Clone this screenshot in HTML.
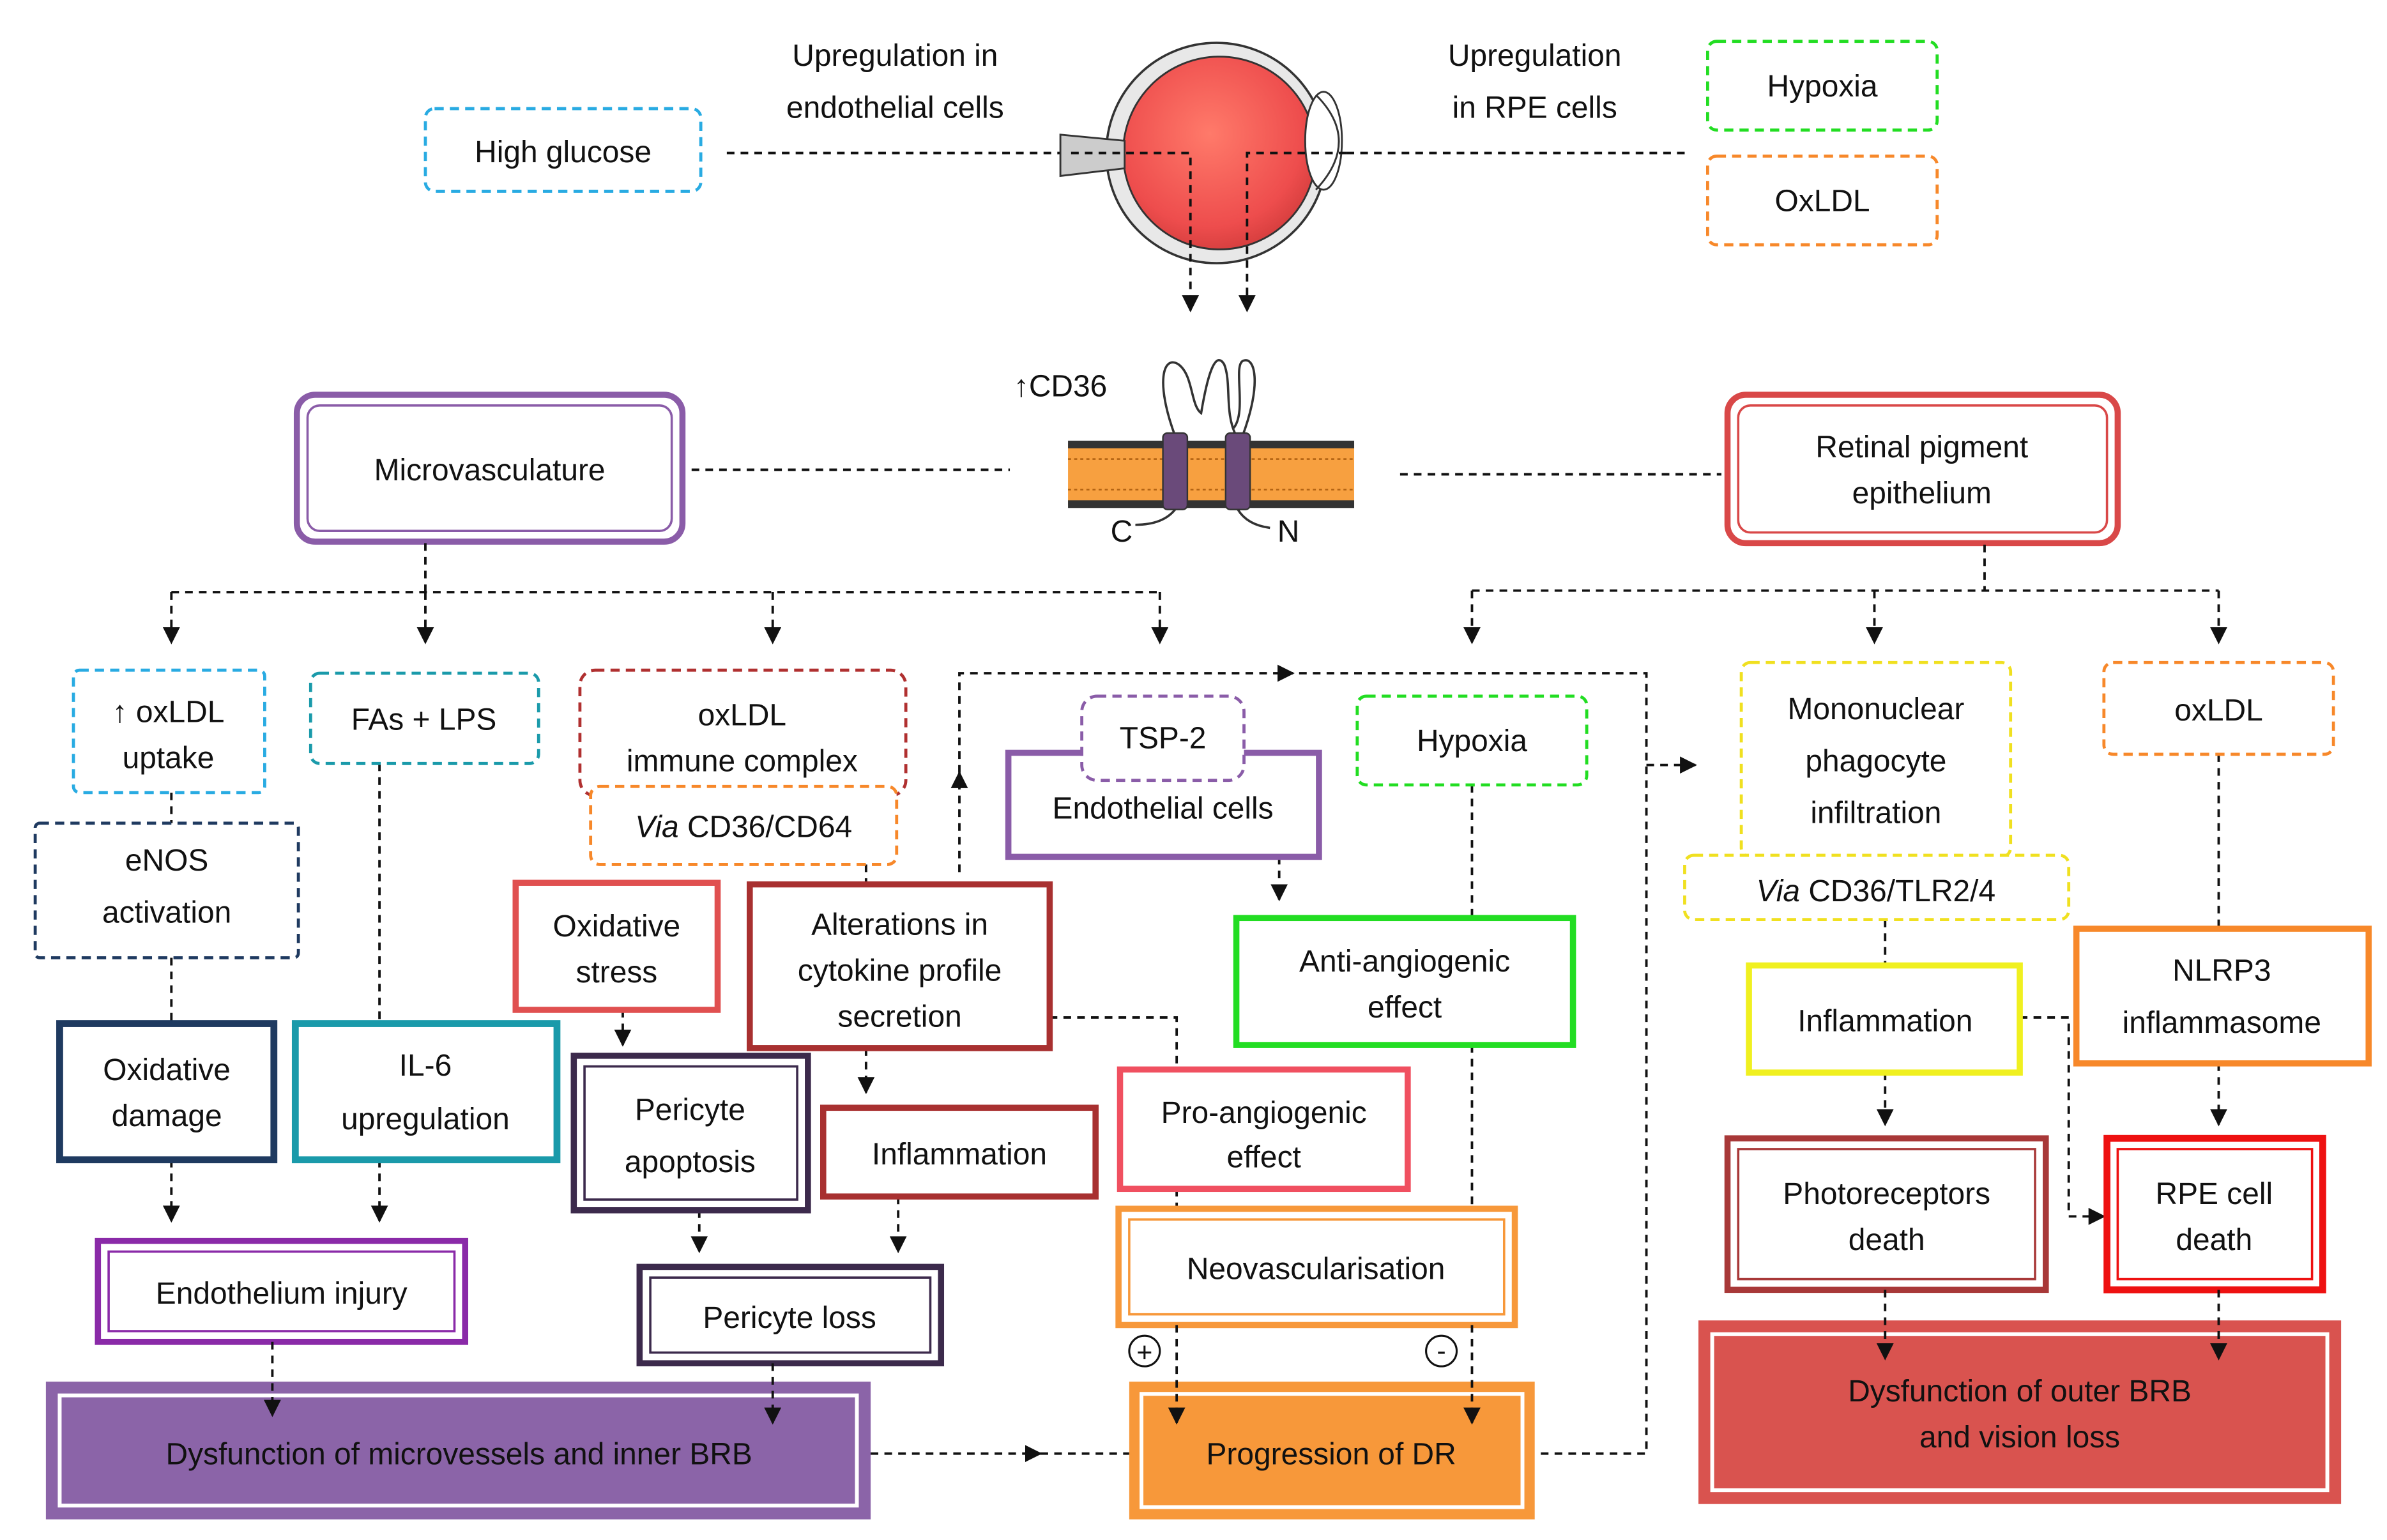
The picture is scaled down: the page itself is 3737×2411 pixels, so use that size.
<!DOCTYPE html>
<html><head><meta charset="utf-8"><style>
html,body{margin:0;padding:0;background:#fff}
svg{display:block}
text{font-family:"Liberation Sans",sans-serif;font-size:20px;fill:#111;text-anchor:middle}
.d{fill:none;stroke:#111;stroke-width:1.6;stroke-dasharray:5,4}
.db{fill:#fff;stroke-width:2;stroke-dasharray:6,4}
</style></head><body>
<svg width="3737" height="2411" viewBox="0 0 1560 1006.5" preserveAspectRatio="none" xmlns="http://www.w3.org/2000/svg">
<defs>
<marker id="a" viewBox="0 0 10 10" refX="9" refY="5" markerWidth="7" markerHeight="7" orient="auto"><path d="M0,0L10,5L0,10z" fill="#111"/></marker>
<radialGradient id="eye" cx="0.45" cy="0.4" r="0.6"><stop offset="0" stop-color="#ff7a6a"/><stop offset="0.8" stop-color="#ee4d4d"/><stop offset="1" stop-color="#d94040"/></radialGradient>
</defs>
<rect width="1560" height="1006.5" fill="#fff"/>

<!-- top -->
<rect x="278" y="71" width="180" height="54" rx="6" class="db" stroke="#29abe2"/>
<text x="368" y="106">High glucose</text>
<text x="585" y="43">Upregulation in</text>
<text x="585" y="77">endothelial cells</text>
<text x="1003" y="43">Upregulation</text>
<text x="1003" y="77">in RPE cells</text>
<rect x="1116" y="27" width="150" height="58" rx="6" class="db" stroke="#22dd22"/>
<text x="1191" y="63">Hypoxia</text>
<rect x="1116" y="102" width="150" height="58" rx="6" class="db" stroke="#f7882a"/>
<text x="1191" y="138">OxLDL</text>
<path class="d" d="M475,100H700"/>
<path class="d" d="M880,100H1105"/>
<!-- eye -->
<circle cx="795" cy="100" r="72" fill="#e8e8e8" stroke="#333" stroke-width="1.5"/>
<circle cx="797" cy="100" r="63" fill="url(#eye)" stroke="#333" stroke-width="1.2"/>
<polygon points="693,88 735,92 735,110 693,115" fill="#ccc" stroke="#333" stroke-width="1.2"/>
<ellipse cx="865" cy="92" rx="12" ry="32" fill="#fff" stroke="#333" stroke-width="1.2"/>
<path d="M860,62 Q890,92 860,124" fill="none" stroke="#333" stroke-width="1.2"/>
<path class="d" d="M700,100H778V203" marker-end="url(#a)"/>
<path class="d" d="M880,100H815V203" marker-end="url(#a)"/>
<!-- membrane -->
<text x="693" y="259">↑CD36</text>
<rect x="698" y="290" width="187" height="40" fill="#f7a040"/>
<g fill="#333">
<rect x="698" y="288" width="187" height="5"/><rect x="698" y="327" width="187" height="5"/>
</g>
<path d="M698,300H885M698,320H885" stroke="#b06010" stroke-width="1" stroke-dasharray="2,2"/>
<path d="M768,285 C755,250 760,232 770,238 C780,245 778,265 785,270 C790,240 795,230 800,238 C805,250 800,270 808,285" fill="#fff" stroke="#333" stroke-width="1.5"/>
<path d="M812,285 C825,250 820,232 812,236 C806,240 815,270 806,280" fill="#fff" stroke="#333" stroke-width="1.5"/>
<rect x="760" y="283" width="16" height="50" rx="3" fill="#6a4a7a" stroke="#333"/>
<rect x="801" y="283" width="16" height="50" rx="3" fill="#6a4a7a" stroke="#333"/>
<path d="M768,333 Q760,343 742,343M809,333 Q815,343 830,345" fill="none" stroke="#333" stroke-width="1.5"/>
<text x="733" y="354">C</text><text x="842" y="354">N</text>

<!-- level 1 boxes -->
<rect x="194" y="258" width="252" height="96" rx="12" fill="#fff" stroke="#8a5ca8" stroke-width="4"/>
<rect x="201" y="265" width="238" height="82" rx="8" fill="none" stroke="#8a5ca8" stroke-width="1.5"/>
<text x="320" y="314">Microvasculature</text>
<rect x="1129" y="258" width="255" height="97" rx="12" fill="#fff" stroke="#d94848" stroke-width="4"/>
<rect x="1136" y="265" width="241" height="83" rx="8" fill="none" stroke="#d94848" stroke-width="1.5"/>
<text x="1256" y="299">Retinal pigment</text>
<text x="1256" y="329">epithelium</text>
<path class="d" d="M452,307H660"/>
<path class="d" d="M915,310H1125"/>

<!-- branches -->
<path class="d" d="M278,355V387"/>
<path class="d" d="M112,387H758"/>
<path class="d" d="M112,387V420" marker-end="url(#a)"/>
<path class="d" d="M278,387V420" marker-end="url(#a)"/>
<path class="d" d="M505,387V420" marker-end="url(#a)"/>
<path class="d" d="M758,387V420" marker-end="url(#a)"/>
<path class="d" d="M1297,356V386"/>
<path class="d" d="M962,386H1450"/>
<path class="d" d="M962,386V420" marker-end="url(#a)"/>
<path class="d" d="M1225,386V420" marker-end="url(#a)"/>
<path class="d" d="M1450,386V420" marker-end="url(#a)"/>

<!-- connectors -->
<path class="d" d="M627,570V505" marker-end="url(#a)"/>
<path class="d" d="M627,505V440H845" marker-end="url(#a)"/>
<path class="d" d="M840,440H1076V950H1003"/>
<path class="d" d="M1076,500H1108" marker-end="url(#a)"/>
<path class="d" d="M112,518V538"/>
<path class="d" d="M112,626V669"/>
<path class="d" d="M112,758V798" marker-end="url(#a)"/>
<path class="d" d="M248,499V669"/>
<path class="d" d="M248,758V798" marker-end="url(#a)"/>
<path class="d" d="M407,660V683" marker-end="url(#a)"/>
<path class="d" d="M566,565V578"/>
<path class="d" d="M566,685V714" marker-end="url(#a)"/>
<path class="d" d="M457,791V818" marker-end="url(#a)"/>
<path class="d" d="M587,782V818" marker-end="url(#a)"/>
<path class="d" d="M686,665H769V699"/>
<path class="d" d="M769,777V790"/>
<path class="d" d="M836,560V588" marker-end="url(#a)"/>
<path class="d" d="M962,513V600"/>
<path class="d" d="M962,683V790"/>
<path class="d" d="M569,950H680" marker-end="url(#a)"/>
<path class="d" d="M680,950H738"/>
<path class="d" d="M1232,601V631"/>
<path class="d" d="M1232,701V735" marker-end="url(#a)"/>
<path class="d" d="M1320,665H1352V795H1375" marker-end="url(#a)"/>
<path class="d" d="M1450,493V607"/>
<path class="d" d="M1450,695V735" marker-end="url(#a)"/>

<!-- dashed boxes row -->
<rect x="48" y="438" width="125" height="80" rx="4" class="db" stroke="#29abe2"/>
<text x="110" y="472">↑ oxLDL</text><text x="110" y="502">uptake</text>
<rect x="203" y="440" width="149" height="59" rx="6" class="db" stroke="#1a9aaa"/>
<text x="277" y="477">FAs + LPS</text>
<rect x="379" y="438" width="213" height="82" rx="10" class="db" stroke="#b03030"/>
<text x="485" y="474">oxLDL</text><text x="485" y="504">immune complex</text>
<rect x="386" y="514" width="200" height="51" rx="6" class="db" stroke="#f7882a"/>
<text x="486" y="547"><tspan font-style="italic">Via</tspan> CD36/CD64</text>
<rect x="23" y="538" width="172" height="88" rx="3" class="db" stroke="#1f3a60"/>
<text x="109" y="569">eNOS</text><text x="109" y="603">activation</text>
<rect x="659" y="492" width="203" height="68" fill="#fff" stroke="#8a5ca8" stroke-width="4"/>
<rect x="707" y="455" width="106" height="55" rx="10" class="db" stroke="#8a5ca8"/>
<text x="760" y="489">TSP-2</text>
<text x="760" y="535">Endothelial cells</text>
<rect x="887" y="455" width="150" height="58" rx="6" class="db" stroke="#22dd22"/>
<text x="962" y="491">Hypoxia</text>
<rect x="1138" y="433" width="176" height="127" rx="6" class="db" stroke="#f0e020"/>
<text x="1226" y="470">Mononuclear</text><text x="1226" y="504">phagocyte</text><text x="1226" y="538">infiltration</text>
<rect x="1101" y="559" width="251" height="42" rx="6" class="db" stroke="#f0e020"/>
<text x="1226" y="589"><tspan font-style="italic">Via</tspan> CD36/TLR2/4</text>
<rect x="1375" y="433" width="150" height="60" rx="6" class="db" stroke="#f7882a"/>
<text x="1450" y="471">oxLDL</text>

<!-- solid boxes -->
<rect x="337" y="577" width="132" height="83" fill="#fff" stroke="#e05050" stroke-width="4"/>
<text x="403" y="612">Oxidative</text><text x="403" y="642">stress</text>
<rect x="490" y="578" width="196" height="107" fill="#fff" stroke="#a83030" stroke-width="4"/>
<text x="588" y="611">Alterations in</text><text x="588" y="641">cytokine profile</text><text x="588" y="671">secretion</text>
<rect x="808" y="600" width="220" height="83" fill="#fff" stroke="#22dd22" stroke-width="4"/>
<text x="918" y="635">Anti-angiogenic</text><text x="918" y="665">effect</text>
<rect x="1143" y="631" width="177" height="70" fill="#fff" stroke="#f0f020" stroke-width="4"/>
<text x="1232" y="674">Inflammation</text>
<rect x="1357" y="607" width="191" height="88" fill="#fff" stroke="#f7882a" stroke-width="4"/>
<text x="1452" y="641">NLRP3</text><text x="1452" y="675">inflammasome</text>
<rect x="39" y="669" width="140" height="89" fill="#fff" stroke="#1f3a60" stroke-width="4.5"/>
<text x="109" y="706">Oxidative</text><text x="109" y="736">damage</text>
<rect x="193" y="669" width="171" height="89" fill="#fff" stroke="#1a9aaa" stroke-width="4.5"/>
<text x="278" y="703">IL-6</text><text x="278" y="738">upregulation</text>
<rect x="375" y="690" width="153" height="101" fill="#fff" stroke="#3c2a4c" stroke-width="4"/>
<rect x="382" y="697" width="139" height="87" fill="none" stroke="#3c2a4c" stroke-width="1.5"/>
<text x="451" y="732">Pericyte</text><text x="451" y="766">apoptosis</text>
<rect x="538" y="724" width="178" height="58" fill="#fff" stroke="#a83030" stroke-width="4"/>
<text x="627" y="761">Inflammation</text>
<rect x="732" y="699" width="188" height="78" fill="#fff" stroke="#f05060" stroke-width="4"/>
<text x="826" y="734">Pro-angiogenic</text><text x="826" y="763">effect</text>
<rect x="1129" y="744" width="208" height="99" fill="#fff" stroke="#a83838" stroke-width="4"/>
<rect x="1136" y="751" width="194" height="85" fill="none" stroke="#a83838" stroke-width="1.5"/>
<text x="1233" y="787">Photoreceptors</text><text x="1233" y="817">death</text>
<rect x="1377" y="744" width="141" height="99" fill="#fff" stroke="#ee1111" stroke-width="4.5"/>
<rect x="1384" y="751" width="127" height="85" fill="none" stroke="#ee1111" stroke-width="1.5"/>
<text x="1447" y="787">RPE cell</text><text x="1447" y="817">death</text>
<rect x="731" y="790" width="259" height="76" fill="#fff" stroke="#f7983a" stroke-width="4"/>
<rect x="738" y="797" width="245" height="62" fill="none" stroke="#f7983a" stroke-width="1.5"/>
<text x="860" y="836">Neovascularisation</text>
<rect x="64" y="811" width="240" height="66" fill="#fff" stroke="#8a2aa8" stroke-width="4"/>
<rect x="71" y="818" width="226" height="52" fill="none" stroke="#8a2aa8" stroke-width="1.5"/>
<text x="184" y="852">Endothelium injury</text>
<rect x="418" y="828" width="197" height="63" fill="#fff" stroke="#3c2a4c" stroke-width="4"/>
<rect x="425" y="835" width="183" height="49" fill="none" stroke="#3c2a4c" stroke-width="1.5"/>
<text x="516" y="868">Pericyte loss</text>
<circle cx="748" cy="883" r="10" fill="#fff" stroke="#111" stroke-width="1.3"/><text x="748" y="890" style="font-size:18px">+</text>
<circle cx="942" cy="883" r="10" fill="#fff" stroke="#111" stroke-width="1.3"/><text x="942" y="889" style="font-size:18px">-</text>

<!-- bottom -->
<rect x="30" y="903" width="539" height="90" fill="#8b64a8"/>
<rect x="39" y="912" width="521" height="72" fill="none" stroke="#fff" stroke-width="2.5"/>
<text x="300" y="957">Dysfunction of microvessels and  inner BRB</text>
<rect x="738" y="903" width="265" height="90" fill="#f7983a"/>
<rect x="746" y="911" width="249" height="74" fill="none" stroke="#fff" stroke-width="2.5"/>
<text x="870" y="957">Progression of DR</text>
<rect x="1110" y="863" width="420" height="120" fill="#d9534f"/>
<rect x="1119" y="872" width="402" height="102" fill="none" stroke="#fff" stroke-width="2.5"/>
<text x="1320" y="916">Dysfunction of outer BRB</text>
<text x="1320" y="946">and vision loss</text>

<!-- arrows into bottom boxes (drawn on top) -->
<path class="d" d="M178,877V925" marker-end="url(#a)"/>
<path class="d" d="M505,891V930" marker-end="url(#a)"/>
<path class="d" d="M769,866V930" marker-end="url(#a)"/>
<path class="d" d="M962,866V930" marker-end="url(#a)"/>
<path class="d" d="M1232,843V888" marker-end="url(#a)"/>
<path class="d" d="M1450,843V888" marker-end="url(#a)"/>
</svg>
</body></html>
